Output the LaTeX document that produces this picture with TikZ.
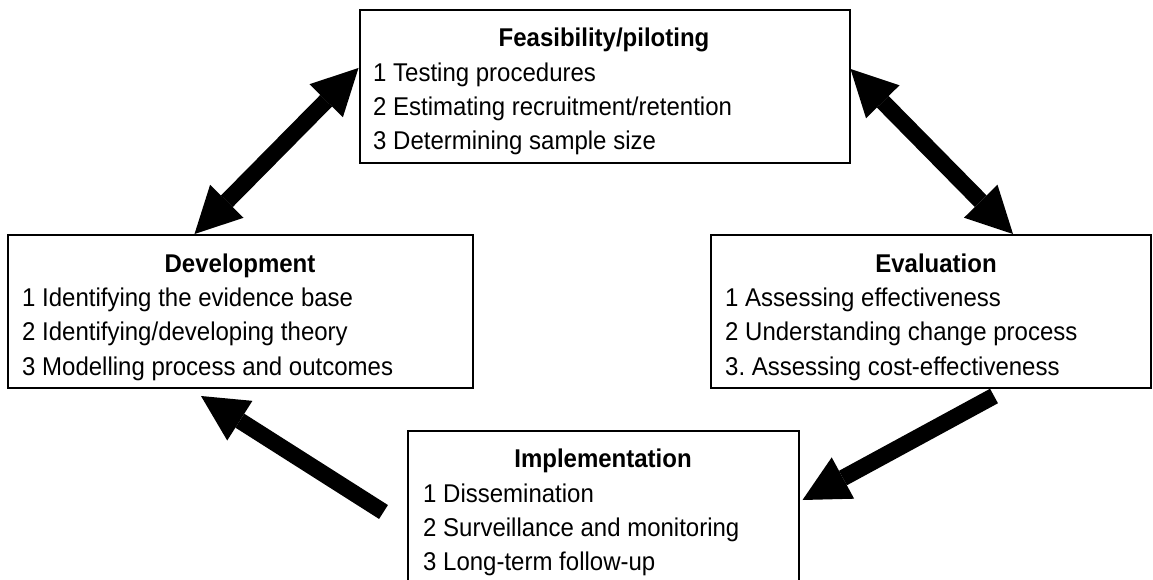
\documentclass[tikz,border=0pt]{standalone}
\usepackage{fontspec}
\setmainfont{Liberation Sans}
\usetikzlibrary{arrows.meta}
\frenchspacing
\newcommand{\tallt}[1]{\scalebox{1}[1.07]{#1}}
\begin{document}
\begin{tikzpicture}[x=1pt,y=-1pt,
  stagebox/.style={draw=black, line width=2pt, fill=white, inner sep=0pt, rectangle, minimum height=153pt},
  titletext/.style={anchor=base, inner sep=0pt, font=\fontsize{24}{28}\selectfont\bfseries},
  itemtext/.style={anchor=base west, inner sep=0pt, font=\fontsize{24}{28}\selectfont},
  bigtip/.tip={Triangle[length=46pt,width=47pt,line width=0pt]},
  bigarrow/.style={line width=16.5pt, -bigtip},
  bigdarrow/.style={line width=16.5pt, bigtip-bigtip}]
\useasboundingbox (0,0) rectangle (1153,580);
\clip (0,0) rectangle (1153,580);
% boxes
\node[stagebox, minimum width=465pt] (dev)  at (240.5,311.5) {};
\node[stagebox, minimum width=490pt] (feas) at (604.5,86.5) {};
\node[stagebox, minimum width=440pt] (eval) at (931,311.5) {};
\node[stagebox, minimum width=391pt] (impl) at (603.5,507.5) {};
% Feasibility
\node[titletext] (feast) at (604,47) {\tallt{Feasibility/piloting}};
\node[itemtext] (feas1) at (373,82)  {\tallt{1 Testing procedures}};
\node[itemtext] (feas2) at (373,116) {\tallt{2 Estimating recruitment/retention}};
\node[itemtext] (feas3) at (373,150) {\tallt{3 Determining sample size}};
% Development
\node[titletext] (devt) at (240,272) {\tallt{Development}};
\node[itemtext] (dev1) at (22,306) {\tallt{1 Identifying the evidence base}};
\node[itemtext] (dev2) at (22,340) {\tallt{2 Identifying/developing theory}};
\node[itemtext] (dev3) at (22,375) {\tallt{3 Modelling process and outcomes}};
% Evaluation
\node[titletext] (evalt) at (936,272) {\tallt{Evaluation}};
\node[itemtext] (eval1) at (725,306) {\tallt{1 Assessing effectiveness}};
\node[itemtext] (eval2) at (725,340) {\tallt{2 Understanding change process}};
\node[itemtext] (eval3) at (725,375) {\tallt{3.\ Assessing cost-effectiveness}};
% Implementation
\node[titletext] (implt) at (603,467) {\tallt{Implementation}};
\node[itemtext] (impl1) at (423,502) {\tallt{1 Dissemination}};
\node[itemtext] (impl2) at (423,536) {\tallt{2 Surveillance and monitoring}};
\node[itemtext] (impl3) at (423,570) {\tallt{3 Long-term follow-up}};
% arrows
\draw[bigdarrow] ([xshift=-46pt]dev.north) -- ([yshift=-59pt]feas.north west);
\draw[bigdarrow] ([yshift=-60pt]feas.north east) -- ([xshift=82pt]eval.north);
\draw[bigarrow] ([shift={(63pt,-7pt)}]eval.south) -- ([shift={(2.5pt,7.5pt)}]impl.east);
\draw[bigarrow] ([shift={(-23.5pt,-4.5pt)}]impl.west) -- ([shift={(-39.5pt,-7pt)}]dev.south);
\end{tikzpicture}
\end{document}
